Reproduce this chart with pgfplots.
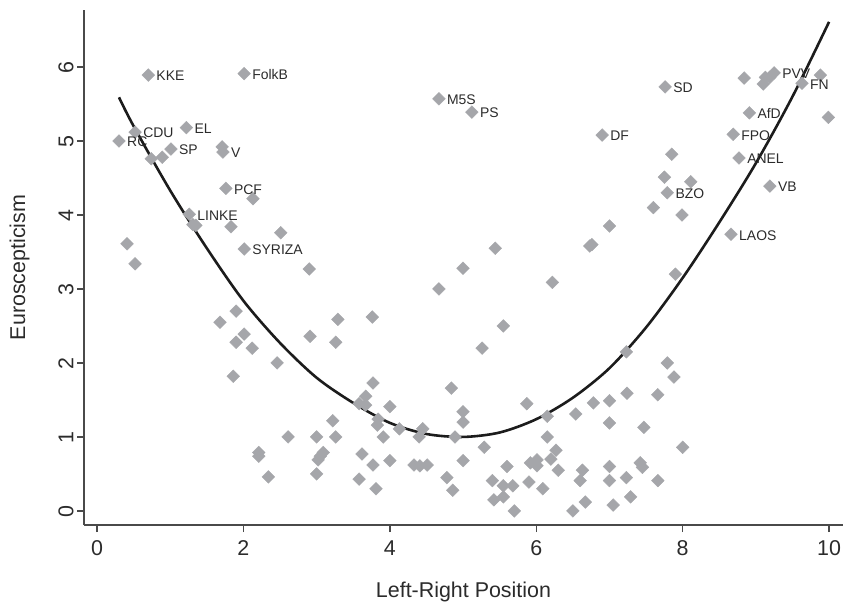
\documentclass[border=0pt]{standalone}
\usepackage{fontspec}
\setmainfont{Liberation Sans}
\usepackage{pgfplots}
\pgfplotsset{compat=1.18}
\usetikzlibrary{calc}
\definecolor{dia}{HTML}{A5A6AA}
\definecolor{labc}{HTML}{2B2B2B}
\definecolor{axisC}{HTML}{4A4A4A}
\definecolor{fitC}{HTML}{1C1C1C}

\pgfplotstableread{
x y
0.74 4.76
0.89 4.78
1.71 4.92
2.13 4.22
1.31 3.87
1.35 3.86
1.83 3.84
2.51 3.76
0.41 3.61
0.52 3.34
2.90 3.27
1.90 2.70
1.68 2.55
2.01 2.39
1.90 2.28
2.12 2.20
2.46 2.00
1.86 1.82
3.29 2.59
2.91 2.36
3.26 2.28
3.22 1.22
2.61 1.00
3.00 1.00
3.26 1.00
2.21 0.79
2.21 0.74
3.09 0.79
3.02 0.69
3.05 0.74
3.00 0.50
2.34 0.46
5.44 3.55
5.00 3.28
4.67 3.00
6.22 3.09
3.76 2.62
5.55 2.50
5.26 2.20
3.77 1.73
3.67 1.55
4.84 1.66
5.87 1.45
3.58 1.45
3.67 1.43
4.00 1.41
3.84 1.24
3.83 1.16
5.00 1.34
5.00 1.20
6.15 1.28
6.54 1.31
4.13 1.11
4.45 1.11
4.40 1.00
3.91 1.00
4.89 1.00
5.29 0.86
6.15 1.00
3.62 0.77
3.77 0.62
4.00 0.68
4.33 0.62
4.41 0.61
4.51 0.62
5.00 0.68
5.60 0.60
5.92 0.65
6.01 0.69
6.01 0.61
6.20 0.70
6.27 0.82
6.30 0.55
6.63 0.55
3.58 0.43
3.81 0.30
4.78 0.45
4.86 0.28
5.40 0.41
5.55 0.34
5.68 0.34
5.90 0.39
6.09 0.30
6.60 0.41
5.42 0.15
5.55 0.19
5.70 0.00
6.50 0.00
6.67 0.12
7.24 1.59
7.66 1.57
6.78 1.46
7.00 1.49
7.00 1.19
7.47 1.13
8.00 0.86
7.00 0.60
7.00 0.41
7.23 0.45
7.42 0.65
7.45 0.59
7.66 0.41
7.05 0.08
7.29 0.19
7.60 4.10
7.99 4.00
7.00 3.85
6.73 3.58
6.76 3.60
7.90 3.20
7.23 2.15
7.79 2.00
7.88 1.81
7.85 4.82
7.75 4.51
8.11 4.45
8.84 5.85
9.13 5.86
9.10 5.77
9.19 5.86
9.88 5.89
9.99 5.32
}\pointsplain

\pgfplotstableread{
x y lab
0.70 5.89 KKE
2.01 5.91 FolkB
0.52 5.12 CDU
0.30 5.00 RC
1.22 5.18 EL
1.01 4.89 SP
1.72 4.85 V
1.76 4.36 PCF
1.26 4.01 LINKE
2.01 3.54 SYRIZA
4.67 5.57 M5S
5.12 5.39 PS
6.90 5.08 DF
7.76 5.73 SD
7.79 4.30 BZO
8.66 3.74 LAOS
9.25 5.92 PVV
9.63 5.78 FN
8.91 5.38 AfD
8.69 5.09 FPO
8.77 4.77 ANEL
9.19 4.39 VB
}\pointslab

\pgfplotstableread{
x y
0.30 5.59
0.50 5.20
1.00 4.33
1.50 3.55
2.00 2.84
2.50 2.27
3.00 1.80
3.50 1.46
4.00 1.19
4.50 1.04
5.00 1.00
5.50 1.06
6.00 1.24
6.50 1.53
7.00 1.93
7.50 2.48
8.00 3.15
8.50 3.90
9.00 4.70
9.50 5.60
10.00 6.61
}\fitline

\begin{document}
\begin{tikzpicture}
\begin{axis}[
  scale only axis, width=759bp, height=515bp,
  xmin=-0.178, xmax=10.19, ymin=-0.19, ymax=6.77,
  axis x line*=bottom, axis y line*=left,
  axis line style={draw=axisC, line width=1.6bp, -},
  tick align=outside, major tick length=7bp,
  tick style={draw=axisC, line width=1.3bp},
  xtick={0,2,4,6,8,10}, ytick={0,1,2,3,4,5,6},
  /pgf/number format/assume math mode=true,
  ticklabel style={font=\fontsize{21.5}{24}\selectfont, text=labc},
  xticklabel style={yshift=-5bp},
  yticklabel style={rotate=90, anchor=south, xshift=-1bp},
  xlabel={Left-Right Position}, ylabel={Euroscepticism},
  label style={font=\fontsize{21.5}{24}\selectfont, text=labc},
  xlabel style={at={(axis description cs:0.5,-0.1417)}, anchor=base},
  ylabel style={at={(axis description cs:-0.085,0.5)}, anchor=center},
  clip=false,
]
\addplot[dia, only marks, mark=square*, mark size=4.5bp,
  mark options={rotate=45}] table {\pointsplain};
\addplot[dia, only marks, mark=square*, mark size=4.5bp,
  mark options={rotate=45},
  nodes near coords, point meta=explicit symbolic,
  every node near coord/.style={anchor=west, inner sep=0pt, xshift=8bp,
    yshift=-1bp, font=\fontsize{14}{16}\selectfont, text=labc}]
  table[meta=lab] {\pointslab};
\addplot[smooth, fitC, line width=2.6bp] table {\fitline};
\end{axis}
\pgfresetboundingbox
\path[use as bounding box] ($(current axis.south west)+(-84bp,-79bp)$) rectangle ++(843bp,604bp);
\end{tikzpicture}
\end{document}
